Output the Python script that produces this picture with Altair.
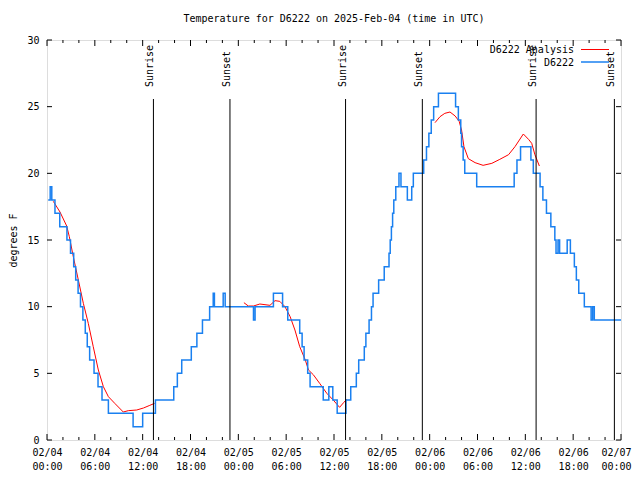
import json
import altair as alt
import pandas as pd

# ---- data ----
obs_hours = [0.15, 0.4, 0.6, 1.0, 1.6, 2.5, 2.95, 3.35, 3.6, 3.9, 4.2, 4.5, 4.8, 5.05, 5.35, 5.9, 6.4, 6.9, 7.7,
             10.8, 12.0, 13.6, 15.9, 16.35, 16.9, 18.1, 18.8, 19.5, 20.4, 20.85, 21.0, 22.1, 22.35,
             25.9, 26.1, 28.4, 29.55, 30.2, 31.7, 32.0, 32.25, 32.7, 33.0, 34.65, 35.35, 35.85, 36.4,
             37.5, 38.1, 38.8, 39.1, 39.8, 40.0, 40.4, 40.7, 40.9, 41.6, 42.3, 42.9, 43.05, 43.2, 43.35,
             43.5, 43.75, 44.15, 44.4, 45.2, 45.75, 45.95, 47.25, 47.6, 47.9, 48.2, 48.5, 49.1,
             51.25, 51.6, 51.9, 52.0, 52.2, 52.4, 53.9, 58.6, 58.95, 59.4, 60.7, 61.0, 61.85, 62.2,
             62.65, 63.2, 63.7, 63.85, 64.1, 64.3, 65.25, 65.65, 66.15, 66.4, 66.7, 67.4, 68.25,
             68.45, 68.65, 72.0]
obs_temps = [18, 19, 18, 17, 16, 15, 14, 13, 12, 11, 10, 9, 8, 7, 6, 5, 4, 3, 2,
             1, 2, 3, 4, 5, 6, 7, 8, 9, 10, 11, 10, 11, 10,
             9, 10, 11, 10, 9, 8, 7, 6, 5, 4, 3, 4, 3, 2,
             3, 4, 5, 6, 7, 8, 9, 10, 11, 12, 13, 14, 15, 16, 17,
             18, 19, 20, 19, 18, 19, 20, 21, 22, 23, 24, 25, 26,
             25, 24, 23, 22, 21, 20, 19, 20, 21, 22, 21, 20, 19, 18,
             17, 16, 15, 14, 15, 14, 15, 14, 13, 12, 11, 10, 9,
             10, 9, 9]

ana_seg1_hours = [0.79, 1.63, 2.47, 2.8, 3.3, 3.93, 4.56, 5.18, 5.8, 6.44, 7.07, 7.7, 8.5, 9.57, 10.2, 11.25, 12.1, 12.9, 13.5]
ana_seg1_temps = [17.9, 17.1, 16.05, 15.25, 13.75, 12.0, 10.25, 8.75, 7.0, 5.25, 4.0, 3.25, 2.75, 2.1, 2.2, 2.25, 2.4, 2.6, 2.75]
ana_seg2_hours = [24.7, 25.25, 25.9, 26.7, 27.97, 28.6, 29.2, 29.85, 30.5, 31.1, 31.7, 32.4, 32.8, 33.4, 34.2, 35.1, 35.9, 36.7, 37.2, 37.6]
ana_seg2_temps = [10.3, 10.05, 10.05, 10.2, 10.1, 10.45, 10.4, 10.0, 9.25, 8.25, 7.0, 6.0, 5.25, 4.9, 4.25, 3.5, 3.0, 2.45, 2.8, 3.05]
ana_seg3_hours = [48.67, 49.3, 49.9, 50.55, 51.2, 51.7, 52.0, 52.3, 52.85, 53.7, 54.7, 55.8, 56.8, 57.9, 58.7, 59.75, 60.4, 60.8, 61.2, 61.76]
ana_seg3_temps = [23.8, 24.25, 24.5, 24.6, 24.3, 23.9, 23.25, 22.0, 21.1, 20.8, 20.6, 20.75, 21.05, 21.4, 22.0, 22.95, 22.55, 22.25, 21.4, 20.55]

sun_hours = [13.35, 22.95, 37.45, 47.08, 61.35, 71.17]
sun_labels = ["Sunrise", "Sunset", "Sunrise", "Sunset", "Sunrise", "Sunset"]

tick_hours = [0, 6, 12, 18, 24, 30, 36, 42, 48, 54, 60, 66, 72]
tick_dates = ["02/04", "02/04", "02/04", "02/04", "02/05", "02/05", "02/05", "02/05",
              "02/06", "02/06", "02/06", "02/06", "02/07"]
tick_times = ["00:00", "06:00", "12:00", "18:00", "00:00", "06:00", "12:00", "18:00",
              "00:00", "06:00", "12:00", "18:00", "00:00"]
minor_hours = [h for h in range(0, 73, 2) if h % 6 != 0]
y_ticks = [0, 5, 10, 15, 20, 25, 30]

series_names = ["D6222 Analysis", "D6222"]
title_text = "Temperature for D6222 on 2025-Feb-04 (time in UTC)"
y_title = "degrees F"

# ---- style ----
FONT = "DejaVu Sans Mono"
W, H = 574, 400
RED = "#ff0000"
BLUE = "#1a80f0"

obs = pd.DataFrame({"h": obs_hours, "v": obs_temps})
ana = pd.concat([
    pd.DataFrame({"h": ana_seg1_hours, "v": ana_seg1_temps, "seg": 1}),
    pd.DataFrame({"h": ana_seg2_hours, "v": ana_seg2_temps, "seg": 2}),
    pd.DataFrame({"h": ana_seg3_hours, "v": ana_seg3_temps, "seg": 3}),
])
sun = pd.DataFrame({"h": sun_hours, "label": sun_labels})
majors = pd.DataFrame({"h": tick_hours})
minors = pd.DataFrame({"h": minor_hours})
yt = pd.DataFrame({"v": y_ticks})

xscale = alt.Scale(domain=[0, 72], nice=False, zero=False)
yscale = alt.Scale(domain=[0, 30], nice=False, zero=False)

label_expr = (f"[{json.dumps(tick_dates)}[round(datum.value/6)], "
              f"{json.dumps(tick_times)}[round(datum.value/6)]]")

xaxis = alt.Axis(values=tick_hours, labelExpr=label_expr, title=None, ticks=False, tickSize=0,
                 domain=False, grid=False, labelPadding=7, labelLineHeight=14,
                 labelFont=FONT, labelFontSize=10, labelColor="black", labelFlush=False,
                 labelOverlap=False,
                 labelOffset={"condition": {"test": f"datum.value >= {tick_hours[-1]}", "value": -5},
                              "value": 0})
yaxis = alt.Axis(values=y_ticks, format="d", title=y_title, ticks=False, tickSize=0, domain=False,
                 grid=False, labelPadding=8, labelFont=FONT, labelFontSize=10, labelColor="black",
                 titleFont=FONT, titleFontSize=10, titleFontWeight="normal", titleColor="black",
                 titleAngle=270, titleX=-34, titleY=200, titleAlign="center", titleBaseline="middle")

X = alt.X("h:Q", scale=xscale, axis=xaxis)
Y = alt.Y("v:Q", scale=yscale, axis=yaxis)

red_line = alt.Chart(ana).mark_line(color=RED, strokeWidth=1).encode(x=X, y=Y, detail="seg:N")
blue_line = alt.Chart(obs).mark_line(color=BLUE, strokeWidth=1.5, interpolate="step-after").encode(x=X, y=Y)
sun_rules = alt.Chart(sun).mark_rule(color="black", strokeWidth=1).encode(
    x=X, y=alt.value(59), y2=alt.value(H))
sun_text = alt.Chart(sun).mark_text(font=FONT, fontSize=10, angle=270, align="left",
                                    baseline="alphabetic", dx=5, color="black").encode(
    x=X, y=alt.value(52), text="label:N")

def xticks(df, length):
    bottom = alt.Chart(df).mark_rule(color="black", strokeWidth=1).encode(
        x=X, y=alt.value(H), y2=alt.value(H - length))
    top = alt.Chart(df).mark_rule(color="black", strokeWidth=1).encode(
        x=X, y=alt.value(0), y2=alt.value(length))
    return [bottom, top]

ytick_left = alt.Chart(yt).mark_rule(color="black", strokeWidth=1).encode(
    y=Y, x=alt.value(0), x2=alt.value(5))
ytick_right = alt.Chart(yt).mark_rule(color="black", strokeWidth=1).encode(
    y=Y, x=alt.value(W), x2=alt.value(W - 5))

legend_layers = []
for i, (name, col) in enumerate(zip(series_names, [RED, BLUE])):
    ypix = 10 + 12.5 * i
    legend_layers.append(
        alt.Chart(pd.DataFrame({"name": [name]})).mark_text(
            font=FONT, fontSize=10, align="right", baseline="middle", color="black").encode(
            x=alt.value(527), y=alt.value(ypix), text="name:N"))
    legend_layers.append(
        alt.Chart(pd.DataFrame({"name": [name]})).mark_rule(color=col, strokeWidth=1.5 if i else 1).encode(
            x=alt.value(534), x2=alt.value(562), y=alt.value(ypix - 0.5)))

title_layer = alt.Chart(pd.DataFrame({"t": [title_text]})).mark_text(
    font=FONT, fontSize=10, align="center", baseline="middle", color="black").encode(
    x=alt.value(W / 2), y=alt.value(-21), text="t:N")

chart = alt.layer(
    red_line, blue_line, sun_rules, sun_text,
    *xticks(majors, 6), *xticks(minors, 3), ytick_left, ytick_right,
    *legend_layers, title_layer,
).properties(
    width=W, height=H,
    autosize=alt.AutoSizeParams(type="none"),
    padding={"left": 39, "top": 32, "right": 11, "bottom": 32},
).configure_view(stroke="black", strokeWidth=1).configure(background="white")

chart.save("out.html", embed_options={"renderer": "svg", "actions": False})
